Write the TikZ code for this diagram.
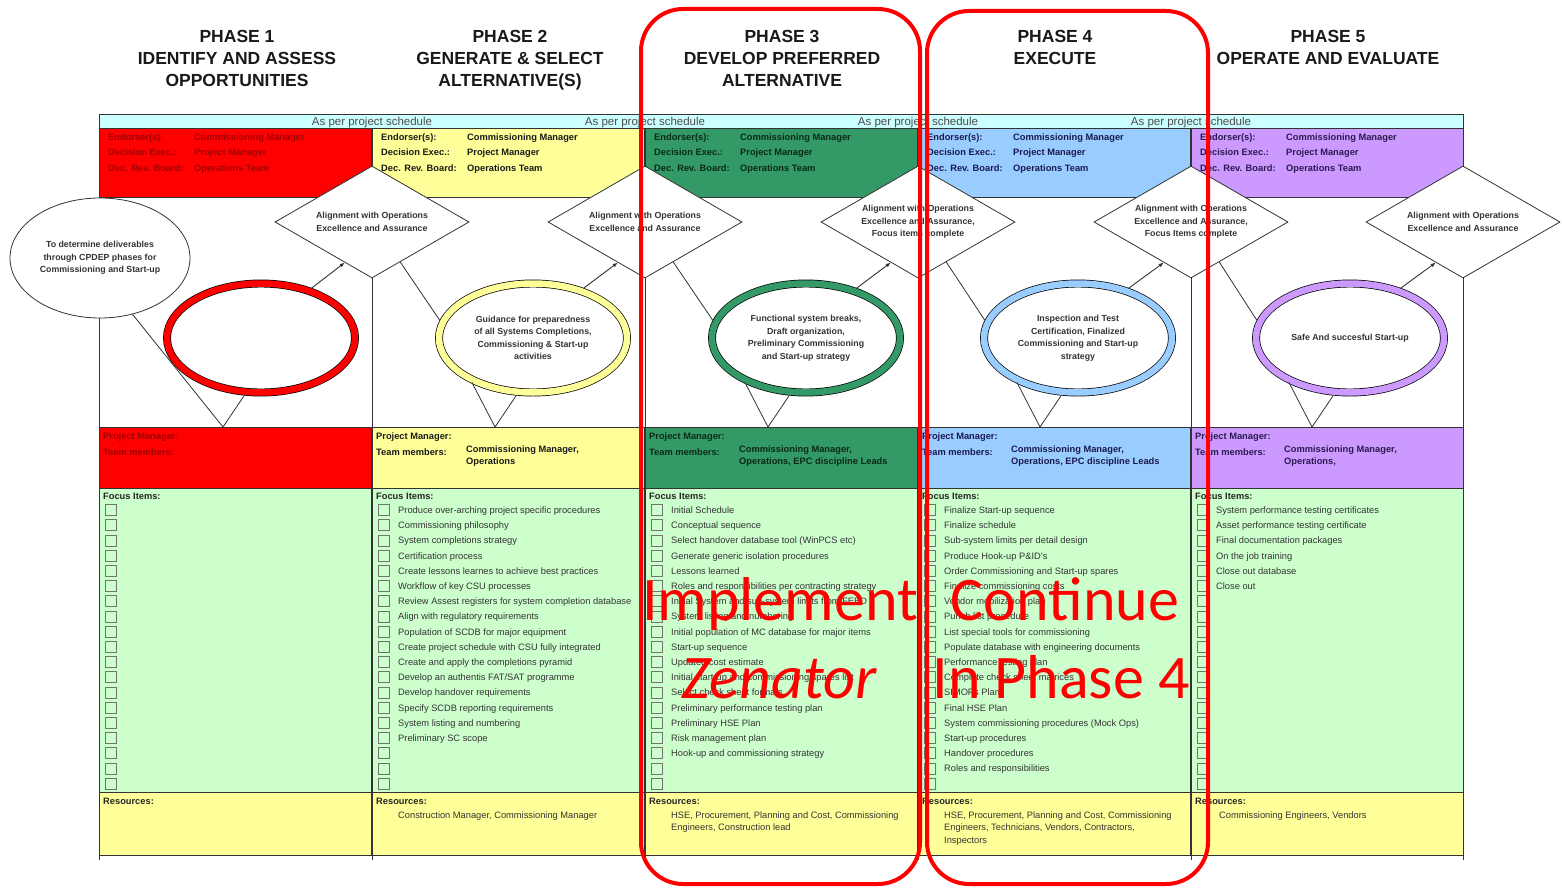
\documentclass[tikz,border=0pt]{standalone}
\usepackage{fontspec}
\setmainfont{Liberation Sans}
\newfontfamily\stampfont{Carlito}
\usepackage{tikz}
\usetikzlibrary{shapes.geometric,calc,arrows.meta}

\definecolor{bandcyan}{HTML}{CCFFFF}
\definecolor{pone}{HTML}{FF0000}
\definecolor{ptwo}{HTML}{FFFF99}
\definecolor{pthree}{HTML}{339966}
\definecolor{pfour}{HTML}{99CCFF}
\definecolor{pfive}{HTML}{CC99FF}
\definecolor{focusgreen}{HTML}{CCFFCC}
\definecolor{tone}{HTML}{A00000}
\definecolor{ttwo}{HTML}{1A1A1A}
\definecolor{tthree}{HTML}{0B2A16}
\definecolor{tfour}{HTML}{1A1A50}
\definecolor{tfive}{HTML}{2A1A50}
\definecolor{gridline}{HTML}{333333}

\begin{document}
\begin{tikzpicture}[x=1pt, y=-1pt,
  grid/.style={draw=gridline, line width=0.8pt},
  head/.style={anchor=north, align=center, inner sep=0pt, text=black!90,
    font=\fontsize{17.5}{22}\selectfont\bfseries},
  sched/.style={inner sep=0pt, yshift=-2pt, text=black!70, font=\fontsize{11.5}{12}\selectfont},
  lbl/.style={anchor=west, inner sep=0pt, yshift=-1.8pt, text height=6.5pt, text depth=1.8pt,
    font=\fontsize{9.3}{11}\selectfont\bfseries},
  val/.style={anchor=north west, align=left, inner sep=0pt,
    font=\fontsize{9.3}{12}\selectfont\bfseries},
  item/.style={anchor=west, inner sep=0pt, yshift=-1.2pt, text height=6.5pt, text depth=1.8pt,
    text=black!80, font=\fontsize{9.3}{11}\selectfont},
  res/.style={anchor=north west, align=left, inner sep=0pt, text=black!80,
    font=\fontsize{9.3}{12.5}\selectfont},
  gate/.style={diamond, draw=gridline, fill=white, aspect=1.73, line width=0.8pt,
    minimum width=194pt, minimum height=112pt, inner sep=0pt, align=center,
    text=black!80, font=\fontsize{8.8}{12.5}\selectfont\bfseries},
  ring/.style={ellipse, draw=black, fill=white, double=#1, double distance=6.5pt,
    line width=0.7pt, minimum width=188pt, minimum height=109pt, inner sep=0pt,
    align=center, text=black!80, font=\fontsize{8.8}{12.5}\selectfont\bfseries},
  tail/.style={draw=gridline, line width=0.8pt},
  flow/.style={draw=gridline, line width=0.9pt, -{Latex[length=5pt,width=4pt]}},
  chk/.style={draw=black!55, line width=0.6pt},
  stamp/.style={draw=red, line width=4pt, rounded corners=42pt},
  stamptxt/.style={text=red, anchor=base, inner sep=0pt,
    font=\stampfont\fontsize{62}{62}\selectfont}
]
\useasboundingbox[fill=white] (0,0) rectangle (1562,888);

\node[head] (ph1) at (237,30.5) {PHASE 1\\IDENTIFY AND ASSESS\\OPPORTUNITIES};
\node[head] (ph2) at (510,30.5) {PHASE 2\\GENERATE \& SELECT\\ALTERNATIVE(S)};
\node[head] (ph3) at (782,30.5) {PHASE 3\\DEVELOP PREFERRED\\ALTERNATIVE};
\node[head] (ph4) at (1055,30.5) {PHASE 4\\EXECUTE};
\node[head] (ph5) at (1328,30.5) {PHASE 5\\OPERATE AND EVALUATE};

\draw[grid, fill=bandcyan] (99,114) rectangle (1463,128);
\foreach \x [count=\k] in {372,645,918,1191}
  \node[sched] (sch\k) at (\x,121) {As per project schedule};

\foreach \c/\col/\tc [count=\k] in {99/pone/tone, 372/ptwo/ttwo, 645/pthree/tthree,
    918/pfour/tfour, 1191/pfive/tfive} {
  \draw[grid, fill=\col] (\c,128) rectangle ++(272,69);
  \node[lbl, text=\tc] (end\k) at (\c+9,136) {Endorser(s):};
  \node[lbl, text=\tc] (endv\k) at (\c+95,136) {Commissioning Manager};
  \node[lbl, text=\tc] (dec\k) at (\c+9,151.5) {Decision Exec.:};
  \node[lbl, text=\tc] (decv\k) at (\c+95,151.5) {Project Manager};
  \node[lbl, text=\tc] (drb\k) at (\c+9,167) {Dec. Rev. Board:};
  \node[lbl, text=\tc] (drbv\k) at (\c+95,167) {Operations Team};
  \draw[grid] (\c,197) -- (\c,427);
  \draw[grid, fill=\col] (\c,427) rectangle ++(272,61);
  \node[lbl, text=\tc] (pm\k) at (\c+4,435) {Project Manager:};
  \node[lbl, text=\tc] (tm\k) at (\c+4,451) {Team members:};
  \draw[grid, fill=focusgreen] (\c,488) rectangle ++(272,304);
  \node[lbl, text=black!85] (fi\k) at (\c+4,495) {Focus Items:};
  \foreach \i in {1,...,19}
    \draw[chk] (\c+6,{504.5+15.2*(\i-1)}) rectangle ++(11,11);
  \draw[grid, fill=ptwo] (\c,792) rectangle ++(272,63);
  \node[lbl, text=black!85] (rs\k) at (\c+4,800) {Resources:};
  \draw[grid] (\c,855) -- (\c,860);
}
\draw[grid] (1463,197) -- (1463,427) (1463,855) -- (1463,860);

\node[val, text=ttwo] (tmv2) at (466,446) {Commissioning Manager,\\Operations};
\node[val, text=tthree] (tmv3) at (739,446) {Commissioning Manager,\\Operations, EPC discipline Leads};
\node[val, text=tfour] (tmv4) at (1011,446) {Commissioning Manager,\\Operations, EPC discipline Leads};
\node[val, text=tfive] (tmv5) at (1284,446) {Commissioning Manager,\\Operations,};

\foreach \t [count=\i] in {Produce over-arching project specific procedures,
    Commissioning philosophy, System completions strategy, Certification process,
    Create lessons learnes to achieve best practices, Workflow of key CSU processes,
    Review Assest registers for system completion database,
    Align with regulatory requirements, Population of SCDB for major equipment,
    Create project schedule with CSU fully integrated,
    Create and apply the completions pyramid, Develop an authentis FAT/SAT programme,
    Develop handover requirements, Specify SCDB reporting requirements,
    System listing and numbering, Preliminary SC scope}
  \node[item] (fb\i) at (398,{494.8+15.2*\i}) {\t};
\foreach \t [count=\i] in {Initial Schedule, Conceptual sequence,
    Select handover database tool (WinPCS etc), Generate generic isolation procedures,
    Lessons learned, Roles and responsibilities per contracting strategy,
    Initial System and sub-system limits from FEED, System listing and numbering,
    Initial population of MC database for major items, Start-up sequence,
    Updated cost estimate, Initial start-up and commissioning spares list,
    Select check sheet formats, Preliminary performance testing plan,
    Preliminary HSE Plan, Risk management plan, Hook-up and commissioning strategy}
  \node[item] (fc\i) at (671,{494.8+15.2*\i}) {\t};
\foreach \t [count=\i] in {Finalize Start-up sequence, Finalize schedule,
    Sub-system limits per detail design, Produce Hook-up P\&ID's,
    Order Commissioning and Start-up spares, Finalize commissioning costs,
    Vendor mobilization plan, Punch list procedure,
    List special tools for commissioning, Populate database with engineering documents,
    Performance testing plan, Complete check sheet matrices, SIMOPs Plan,
    Final HSE Plan, System commissioning procedures (Mock Ops), Start-up procedures,
    Handover procedures, Roles and responsibilities}
  \node[item] (fd\i) at (944,{494.8+15.2*\i}) {\t};
\foreach \t [count=\i] in {System performance testing certificates,
    Asset performance testing certificate, Final documentation packages,
    On the job training, Close out database, Close out}
  \node[item] (fe\i) at (1216,{494.8+15.2*\i}) {\t};

\node[res] (rsv2) at (398,811.5) {Construction Manager, Commissioning Manager};
\node[res] (rsv3) at (671,811.5) {HSE, Procurement, Planning and Cost, Commissioning\\Engineers, Construction lead};
\node[res] (rsv4) at (944,811.5) {HSE, Procurement, Planning and Cost, Commissioning\\Engineers, Technicians, Vendors, Contractors,\\Inspectors};
\node[res] (rsv5) at (1219,811.5) {Commissioning Engineers, Vendors};

\node[gate] (g1) at (372,222) {Alignment with Operations\\Excellence and Assurance};
\node[gate] (g2) at (645,222) {Alignment with Operations\\Excellence and Assurance};
\node[gate] (g3) at (918,222) {Alignment with Operations\\Excellence and Assurance,\\Focus items complete};
\node[gate] (g4) at (1191,222) {Alignment with Operations\\Excellence and Assurance,\\Focus Items complete};
\node[gate] (g5) at (1463,222) {Alignment with Operations\\Excellence and Assurance};

\node[ellipse, draw=gridline, fill=white, line width=0.8pt, minimum width=180pt,
  minimum height=120pt, inner sep=0pt, align=center, text=black!80,
  font=\fontsize{8.8}{12.5}\selectfont\bfseries] (aim) at (100,258)
  {To determine deliverables\\through CPDEP phases for\\Commissioning and Start-up};

\node[ring=pone] (r1) at (261,338) {};
\node[ring=ptwo] (r2) at (533,338) {Guidance for preparedness\\of all Systems Completions,\\Commissioning \& Start-up\\activities};
\node[ring=pthree] (r3) at (806,338) {Functional system breaks,\\Draft organization,\\Preliminary Commissioning\\and Start-up strategy};
\node[ring=pfour] (r4) at (1078,338) {Inspection and Test\\Certification, Finalized\\Commissioning and Start-up\\strategy};
\node[ring=pfive] (r5) at (1350,338) {Safe And succesful Start-up};

\coordinate (v1) at (223,427);
\coordinate (v2) at (495,427);
\coordinate (v3) at (768,427);
\coordinate (v4) at (1040,427);
\coordinate (v5) at (1312,427);

\draw[tail] (aim.300) -- (v1);
\foreach \k in {1,...,5}
  \draw[tail, shorten >=3.9pt] (v\k) -- (r\k.255);
\foreach \k in {2,...,5}
  \draw[tail, shorten >=3.9pt] (v\k) -- (r\k.213);
\foreach \k [remember=\k as \j (initially 1)] in {2,...,5}
  \draw[tail, shorten >=3.9pt] ($(g\j.south)!.29!(g\j.east)$) -- (r\k.171);
\foreach \k in {1,...,5}
  \draw[flow, shorten <=3.9pt] (r\k.45) -- ($(g\k.west)!.72!(g\k.south)$);

\draw[stamp] (641,9) rectangle (920,884);
\draw[stamp] (927,11) rectangle (1208,884);
\node[stamptxt] (imp) at (780,620) {Implement};
\node[stamptxt] (zen) at (779,698) {\itshape Zenator};
\node[stamptxt] (cont) at (1065,620) {Continue};
\node[stamptxt] (inph) at (1061,698) {In Phase 4};
\end{tikzpicture}
\end{document}
